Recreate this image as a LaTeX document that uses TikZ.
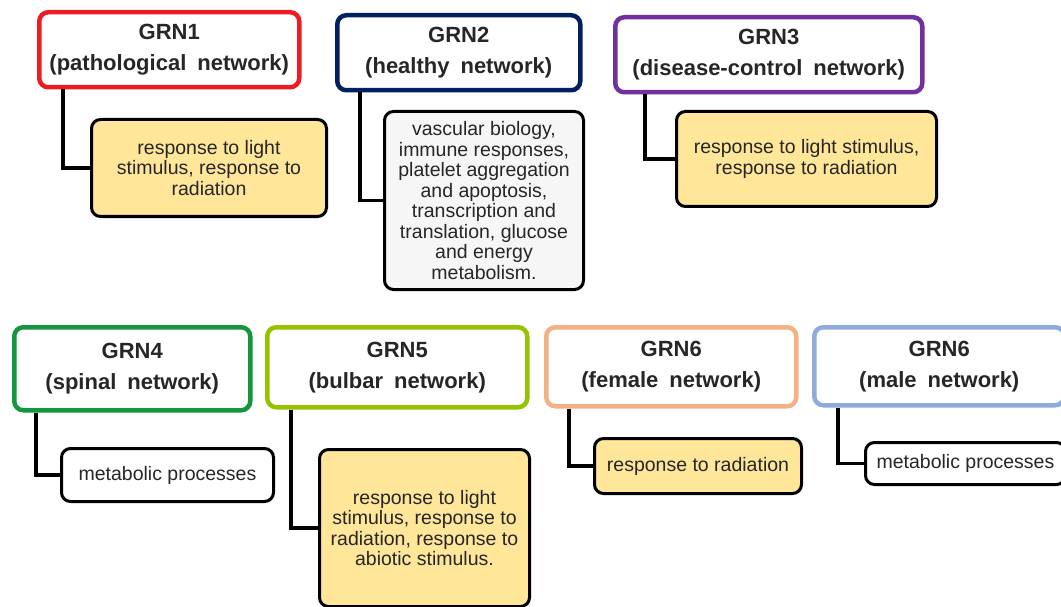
\documentclass[tikz,border=0pt]{standalone}
\usepackage{fontspec}
\setmainfont{Liberation Sans}
\usetikzlibrary{positioning}
\definecolor{GRNred}{RGB}{237,28,36}
\definecolor{GRNnavy}{RGB}{0,32,96}
\definecolor{GRNpurple}{RGB}{112,48,160}
\definecolor{GRNgreen}{RGB}{20,150,60}
\definecolor{GRNlime}{RGB}{150,195,0}
\definecolor{GRNorange}{RGB}{244,177,131}
\definecolor{GRNblue}{RGB}{143,170,220}
\definecolor{termyellow}{RGB}{255,230,153}
\definecolor{termgray}{RGB}{246,246,246}
\newcommand{\hdrfont}{\fontsize{22}{31}\selectfont\bfseries\spaceskip 0.5em\relax}
\tikzset{
  hdr/.style={draw=#1,line width=4.5pt,rounded corners=9pt,fill=white,anchor=north west,
              align=center,inner sep=0pt,text=black!85,font=\hdrfont},
  desc/.style={draw=black,line width=3pt,rounded corners=9pt,fill=#1,anchor=north west,
               align=center,inner sep=0pt,text=black!85,
               font=\fontsize{19.5}{20.5}\selectfont},
  link/.style={line width=3.5pt,black},
}

\begin{document}
\begin{tikzpicture}[x=1pt,y=1pt]
  \useasboundingbox (0,0) rectangle (1061,-607);
  % top row
  \node[hdr=GRNred,minimum width=260pt,minimum height=75pt] (g1) at (37,-10) {GRN1\\(pathological network)};
  \node[desc=termyellow,minimum width=235pt,minimum height=97pt] (d1) at (90,-118) {response to light\\stimulus, response to\\radiation};
  \node[hdr=GRNnavy,minimum width=243pt,minimum height=75pt] (g2) at (335,-13) {GRN2\\(healthy network)};
  \node[desc=termgray,minimum width=199pt,minimum height=178pt] (d2) at (383,-110) {vascular biology,\\immune responses,\\platelet aggregation\\and apoptosis,\\transcription and\\translation, glucose\\and energy\\metabolism.};
  \node[hdr=GRNpurple,minimum width=307pt,minimum height=75pt] (g3) at (613,-15) {GRN3\\(disease-control network)};
  \node[desc=termyellow,minimum width=260pt,minimum height=95pt] (d3) at (675,-110) {response to light stimulus,\\response to radiation};
  % bottom row
  \node[hdr=GRNgreen,minimum width=236pt,minimum height=83pt] (g4) at (12,-325) {GRN4\\(spinal network)};
  \node[desc=white,minimum width=212pt,minimum height=53pt] (d4) at (60,-447) {metabolic processes};
  \node[hdr=GRNlime,minimum width=260pt,minimum height=80pt] (g5) at (265,-325) {GRN5\\(bulbar network)};
  \node[desc=termyellow,minimum width=210pt,minimum height=157pt] (d5) at (318,-448) {response to light\\stimulus, response to\\radiation, response to\\abiotic stimulus.};
  \node[hdr=GRNorange,minimum width=250pt,minimum height=79pt] (g6f) at (544,-325) {GRN6\\(female network)};
  \node[desc=termyellow,minimum width=207pt,minimum height=55pt] (d6f) at (593,-437) {response to radiation};
  \node[hdr=GRNblue,minimum width=250pt,minimum height=78pt] (g6m) at (812,-325) {GRN6\\(male network)};
  \node[desc=white,minimum width=200pt,minimum height=42pt] (d6m) at (864,-441) {metabolic processes};
  % elbow links
  \foreach \g/\d/\o in {g1/d1/26,g2/d2/25,g3/d3/32,g4/d4/24,g5/d5/26,g6f/d6f/25,g6m/d6m/26}
    \draw[link] ([xshift=\o pt]\g.south west) |- (\d);
\end{tikzpicture}
\end{document}
